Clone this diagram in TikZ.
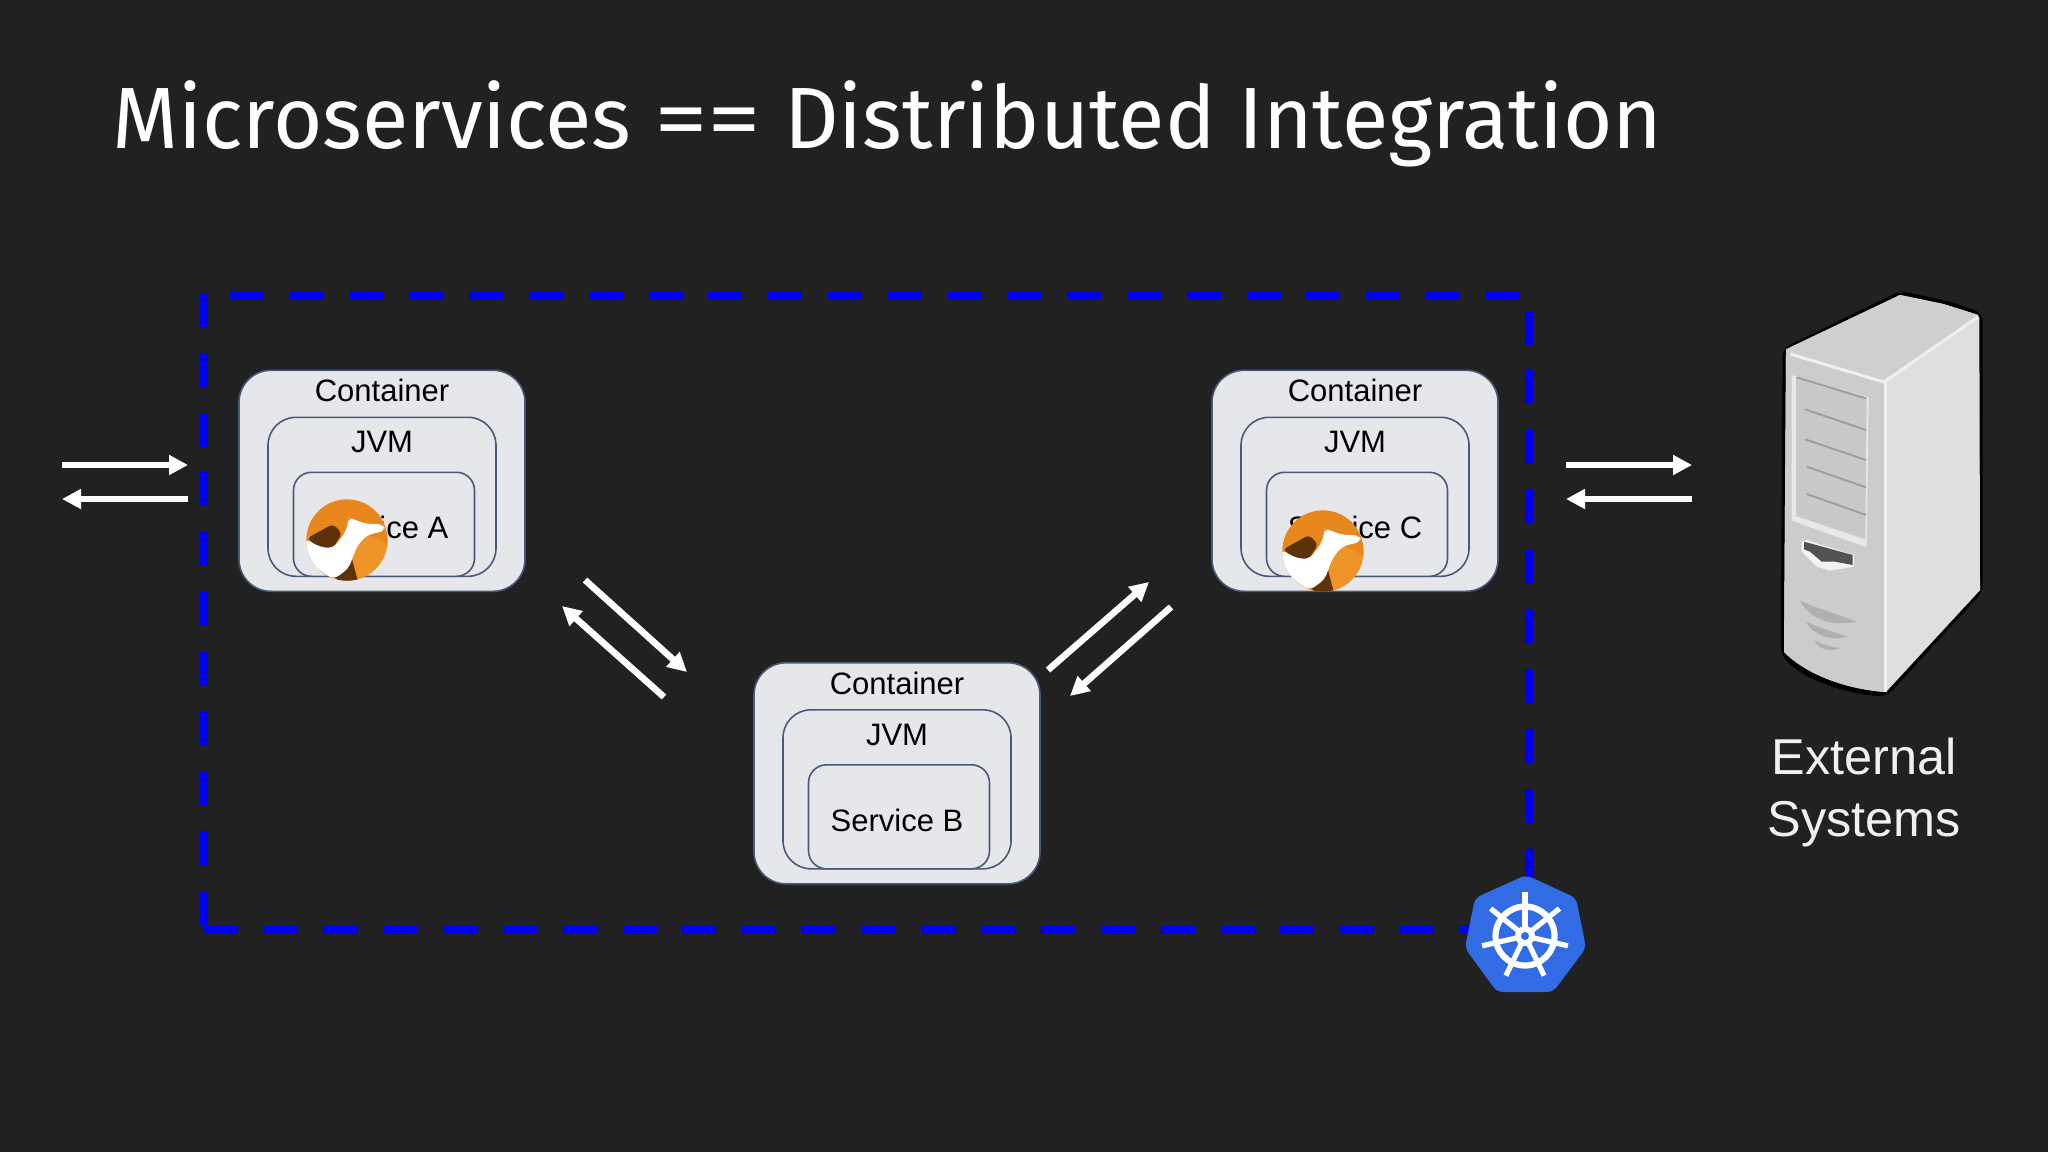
\documentclass[tikz,border=0pt]{standalone}
\usepackage{fontspec}
\usepackage{graphicx}
\setmainfont{Liberation Sans}
\newfontfamily\titlefont{Fira Sans}[FakeStretch=0.975]
\usetikzlibrary{arrows.meta}
\definecolor{slide}{HTML}{212121}
\definecolor{boxfill}{HTML}{E6E7EA}
\definecolor{boxline}{HTML}{4B5A78}
\definecolor{kubeblue}{HTML}{326CE5}
\definecolor{camelorange}{HTML}{E8871E}
\definecolor{camellight}{HTML}{EE9428}
\definecolor{cameldark}{HTML}{5E3208}
\tikzset{
  x=0.5pt, y=-0.5pt,
  contbox/.style={draw=boxline, line width=0.8pt, fill=boxfill, rounded corners=16pt, inner sep=0pt, minimum width=143pt, minimum height=110.5pt},
  jvmbox/.style={draw=boxline, line width=0.8pt, fill=boxfill, rounded corners=14pt, inner sep=0pt, minimum width=114pt, minimum height=79.5pt},
  svcbox/.style={draw=boxline, line width=0.8pt, fill=boxfill, rounded corners=9pt, inner sep=0pt, minimum width=90.5pt, minimum height=52pt},
  lbl/.style={text=black, font=\fontsize{15.5}{18}\selectfont, inner sep=0pt},
  wire/.style={draw=white, line width=3.3pt, -{Triangle[length=9.5pt, width=9.5pt]}},
  border/.style={draw={rgb,255:red,0;green,0;blue,245}, line width=4pt, dash pattern=on 17pt off 12.9pt},
  camel/.pic={
    \begin{scope}[scale=1/3]
    \clip (0,0) circle (122);
    \fill[camelorange] (0,0) circle (122);
    \fill[camellight] (28,20) -- (58,-15) -- (98,0) -- (125,20) -- (125,90) -- (33,125) -- (3,85) -- cycle;
    \fill[cameldark, rounded corners=2pt] (-120,-5) -- (-42,-48) -- (-15,-20) -- (-45,28) -- (-85,24) -- cycle;
    \fill[cameldark] (3,85) -- (13,50) -- (33,125) -- (-22,125) -- (-37,110) -- cycle;
    \fill[white, rounded corners=3pt] (3,-68) -- (20,-62) -- (58,-48) -- (108,-48) -- (116,-28) -- (60,-15) -- (30,18) -- (5,85) -- (-40,118) -- (-90,85) -- (-130,30) -- (-125,-5) -- (-85,20) -- (-42,25) -- (-10,-15) -- (5,-50) -- cycle;
    \end{scope}
  }
}
% one container with its JVM and service boxes: name, centre x, top y, service text
\newcommand{\stack}[4]{
  \node[contbox, anchor=north] (cont#1) at (#2,#3) {};
  \node[jvmbox, anchor=north] (jvm#1) at (#2,#3+47) {};
  \node[svcbox, anchor=north] (svc#1) at (#2+2,#3+102) {};
  \node[lbl] (conttext#1) at (#2,#3+21) {Container};
  \node[lbl] (jvmtext#1) at (#2,#3+72.5) {JVM};
  \node[lbl] (svctext#1) at (#2,#3+158) {#4};
}
\begin{document}
\begin{tikzpicture}
\useasboundingbox (0,0) rectangle (2048,1152);
\fill[slide] (0,0) rectangle (2048,1152);

\node[anchor=base west, inner sep=0pt, text=white, font=\titlefont\fontsize{43.5}{50}\selectfont] (title) at (112,148) {Microservices \scalebox{1.27}[1]{==} Distributed Integration};

% dashed cluster border
\draw[border] (230,295) -- (1529,295);
\draw[border] (204,293) -- (204,930);
\draw[border] (204,930) -- (1480,930);
\draw[border] (1529,310.5) -- (1529,880);

\stack{A}{382}{369.5}{Service A}
\stack{B}{897}{662}{Service B}
\stack{C}{1355}{369.5}{Service C}

\pic at (347,540) {camel};
\pic at (1323,551) {camel};

% arrows
\coordinate (l1) at (62,465);  \coordinate (l2) at (188,465);
\coordinate (l3) at (188,499); \coordinate (l4) at (62,499);
\coordinate (r1) at (1566,465); \coordinate (r2) at (1692,465);
\coordinate (r3) at (1692,499); \coordinate (r4) at (1566,499);
\coordinate (d1) at (585,580); \coordinate (d2) at (687,672);
\coordinate (d3) at (664,697); \coordinate (d4) at (562,606);
\coordinate (d5) at (1048,670); \coordinate (d6) at (1149,582);
\coordinate (d7) at (1171,607); \coordinate (d8) at (1070,696);
\foreach \a/\b in {l1/l2,l3/l4,r1/r2,r3/r4,d1/d2,d3/d4,d5/d6,d7/d8}
  \draw[wire] (\a) -- (\b);

% kubernetes logo
\fill[kubeblue, rounded corners=3pt] (1526,875) -- (1576,898) -- (1586,948) -- (1553,992) -- (1497,992) -- (1465,948) -- (1475,898) -- cycle;
\draw[white, line width=3.1pt] (1525,936) circle (29.5);
\foreach \k in {0,...,6}
  \draw[white, line width=2.6pt] (1525,936) -- ++({-90+\k*360/7}:44);
\fill[white] (1525,936) circle (10);
\fill[kubeblue] (1525,936) circle (4);

% server
\begin{scope}[shift={(1760,280)}, scale=1/3]
\fill[black, rounded corners=4pt] (420,33) -- (550,60) -- (610,78) -- (668,100) -- (668,935) -- (380,1250) .. controls (240,1240) and (120,1190) .. (62,1122) -- (68,205) -- cycle;
\fill[gray!35!white] (78,208) -- (420,45) -- (550,72) -- (655,105) -- (660,930) -- (378,1236) .. controls (240,1225) and (130,1175) .. (72,1116) -- cycle;
\fill[gray!38!white] (78,208) -- (420,45) -- (550,72) -- (655,105) -- (372,303) -- cycle;
\fill[gray!40!white] (78,212) -- (372,303) -- (372,1236) .. controls (240,1225) and (130,1175) .. (72,1116) -- cycle;
\fill[gray!25!white] (375,303) -- (658,112) -- (660,930) -- (375,1236) -- cycle;
\draw[gray!12!white, line width=1.5pt] (90,222) -- (372,306) -- (655,110);
\draw[gray!12!white, line width=1.5pt] (375,306) -- (375,1236);
\fill[gray!18!white] (95,285) -- (326,352) -- (320,802) -- (95,722) -- cycle;
\fill[gray!42!white] (108,292) -- (320,355) -- (316,778) -- (108,708) -- cycle;
\foreach \ya/\yb/\xa in {292/355/110,388/450/135,478/540/135,560/622/140,642/705/140}
  \draw[gray!75!white, line width=1pt] (\xa,\ya) -- (318,\yb);
\fill[gray!10!white] (125,785) -- (140,780) -- (282,825) -- (282,860) -- (210,872) -- (170,860) -- (125,815) -- cycle;
\fill[black!68] (132,785) -- (278,825) -- (278,855) -- (225,845) -- (185,845) -- (150,815) -- (132,808) -- cycle;
\fill[gray!62!white] (120,962) .. controls (170,985) and (240,1005) .. (290,1025) .. controls (220,1040) and (150,1020) .. (120,962) -- cycle;
\fill[gray!62!white] (138,1025) .. controls (180,1045) and (220,1055) .. (262,1070) .. controls (210,1085) and (160,1065) .. (138,1025) -- cycle;
\fill[gray!62!white] (160,1080) .. controls (190,1095) and (215,1100) .. (238,1105) .. controls (205,1118) and (175,1105) .. (160,1080) -- cycle;
\end{scope}

\node[align=center, text={rgb,255:red,240;green,240;blue,240}, font=\fontsize{25.2}{31}\selectfont, inner sep=0pt] (ext) at (1864,792.5) {External\\Systems};
\end{tikzpicture}
\end{document}
